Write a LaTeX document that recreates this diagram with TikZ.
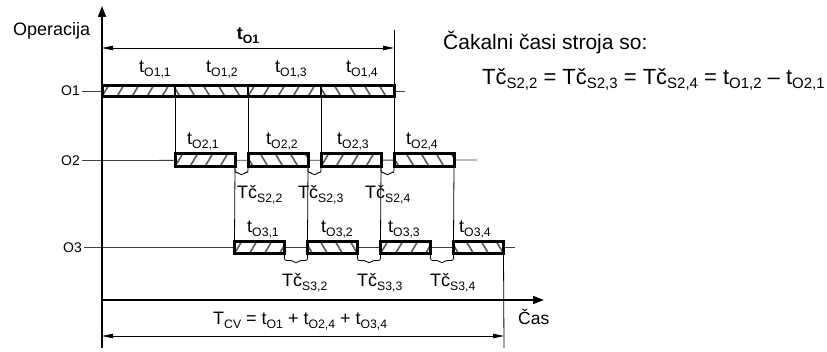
\documentclass[tikz,border=0pt]{standalone}
\usepackage{fontspec}
\usepackage{graphicx}
\setmainfont{Liberation Sans}
\usetikzlibrary{arrows.meta,calc}
\newcommand\sbs[1]{\raisebox{-.17em}{\scalebox{0.68}{#1}}}
\newcommand\gapbr[3]{\draw[brc] (#1) -- ($(#1)+(0,#3)$) -- ($($(#1)!.5!(#2)$)+(-3,#3)$) -- ($($(#1)!.5!(#2)$)+(0,#3+3)$) -- ($($(#1)!.5!(#2)$)+(3,#3)$) -- ($(#2)+(0,#3)$) -- (#2);}
\begin{document}
\begin{tikzpicture}[x=1pt,y=-1pt,
  hatchstroke/.style={draw=black!65, line width=1.6pt},
  hatchR/.style={path picture={\foreach \k in {-30,-15,...,90}{\draw[hatchstroke] ([xshift=\k pt]path picture bounding box.south west) -- ++(9pt,15pt);}}},
  hatchL/.style={path picture={\foreach \k in {-10,5,...,110}{\draw[hatchstroke] ([xshift=\k pt]path picture bounding box.south west) -- ++(-9pt,15pt);}}},
  segbox/.style={draw, fill=white, line width=3pt, minimum height=13pt, inner sep=0pt, outer sep=0pt},
  seg1/.style={segbox, line width=1.8pt, minimum height=11pt, minimum width=73pt},
  seg2/.style={segbox, minimum width=60pt},
  seg3/.style={segbox, minimum height=12pt, minimum width=50pt},
  lbl/.style={inner sep=0pt, anchor=base, font=\fontsize{18}{21}\selectfont},
  tclbl/.style={lbl, anchor=base west},
  olbl/.style={inner sep=2pt, anchor=east, font=\fontsize{14}{17}\selectfont},
  oline/.style={draw=black!75, line width=0.8pt},
  vline/.style={draw=black, line width=0.8pt},
  axisline/.style={draw=black, line width=1.5pt, -{Triangle[length=11pt,width=8pt]}},
  dimline/.style={draw=black, line width=0.8pt, {Triangle[length=11pt,width=4.5pt]}-{Triangle[length=11pt,width=4.5pt]}},
  brc/.style={draw=black, line width=0.8pt, rounded corners=2pt}
]
\useasboundingbox (0,0) rectangle (827,352);

% coordinates
\coordinate (ytop) at (102,6);
\coordinate (ybot) at (102,348);
\coordinate (orig) at (102,300);
\coordinate (xend) at (544,300);
\coordinate (ext1) at (394,30);
\coordinate (ext2) at (504,348);
\coordinate (dimTL) at (102,48);
\coordinate (dimTR) at (394,48);
\coordinate (dimBL) at (102,336);
\coordinate (dimBR) at (504,336);
\coordinate (o1end) at (405,91);
\coordinate (o2end) at (477,160);
\coordinate (o3end) at (515,247.5);

% labels
\node[inner sep=0pt, anchor=base west, font=\fontsize{18}{21}\selectfont] (lop) at (13,36) {Operacija};
\node[lbl, font=\bfseries\fontsize{18}{21}\selectfont] (ltO1) at (248,40) {t\sbs{O1}};
\node[olbl] (lo1) at (82,91) {O1};
\node[olbl] (lo2) at (82,160.5) {O2};
\node[olbl] (lo3) at (84,247.5) {O3};

\node[lbl] (la1) at (155,73) {t\sbs{O1,1}};
\node[lbl] (la2) at (222,73) {t\sbs{O1,2}};
\node[lbl] (la3) at (291,73) {t\sbs{O1,3}};
\node[lbl] (la4) at (362,73) {t\sbs{O1,4}};

\node[lbl] (lb1) at (203,145) {t\sbs{O2,1}};
\node[lbl] (lb2) at (282,145) {t\sbs{O2,2}};
\node[lbl] (lb3) at (353,145) {t\sbs{O2,3}};
\node[lbl] (lb4) at (422,145) {t\sbs{O2,4}};

\node[lbl] (lc1) at (263,233) {t\sbs{O3,1}};
\node[lbl] (lc2) at (337,233) {t\sbs{O3,2}};
\node[lbl] (lc3) at (404,233) {t\sbs{O3,3}};
\node[lbl] (lc4) at (475,233) {t\sbs{O3,4}};

\node[tclbl] (tb2) at (237,199) {Tč\sbs{S2,2}};
\node[tclbl] (tb3) at (298,199) {Tč\sbs{S2,3}};
\node[tclbl] (tb4) at (365,199) {Tč\sbs{S2,4}};

\node[tclbl] (tc2) at (282,287) {Tč\sbs{S3,2}};
\node[tclbl] (tc3) at (357,287) {Tč\sbs{S3,3}};
\node[tclbl] (tc4) at (430,287) {Tč\sbs{S3,4}};

\node[tclbl] (ltcv) at (213,325) {T\sbs{CV} = t\sbs{O1} + t\sbs{O2,4} + t\sbs{O3,4}};
\node[inner sep=0pt, anchor=base west, font=\fontsize{17.5}{20}\selectfont] (lcas) at (518,325) {Čas};

\node[inner sep=0pt, anchor=base west, font=\fontsize{21}{24}\selectfont] (lcak) at (443,50) {Čakalni časi stroja so:};
\node[inner sep=0pt, anchor=base west, font=\fontsize{22}{25}\selectfont] (lform) at (482,85) {Tč\sbs{S2,2} = Tč\sbs{S2,3} = Tč\sbs{S2,4} = t\sbs{O1,2} – t\sbs{O2,1}};

% operation base lines
\draw[oline] (lo1.east) -- (o1end);
\draw[oline] (lo2.east) -- (o2end);
\draw[oline] (lo3.east) -- (o3end);

% O1 bar
\node[seg1, hatchR] (a1) at (138.5,91) {};
\node[seg1, hatchL] (a2) at (211.5,91) {};
\node[seg1, hatchR] (a3) at (284.5,91) {};
\node[seg1, hatchL] (a4) at (357.5,91) {};
\draw[line width=3pt] (a1.north west) rectangle (a4.south east);

% O2 bar
\node[seg2, hatchR] (b1) at (205,160) {};
\node[seg2, hatchL] (b2) at (278,160) {};
\node[seg2, hatchR] (b3) at (351,160) {};
\node[seg2, hatchL] (b4) at (424,160) {};

% O3 bar
\node[seg3, hatchR] (c1) at (259.5,247.5) {};
\node[seg3, hatchL] (c2) at (332.5,247.5) {};
\node[seg3, hatchR] (c3) at (405.5,247.5) {};
\node[seg3, hatchL] (c4) at (478.5,247.5) {};

% vertical connectors
\draw[vline] (ext1) -- (a4.north east);
\draw[vline] (a1.south east) -- (b1.north west);
\draw[vline] (a2.south east) -- (b2.north west);
\draw[vline] (a3.south east) -- (b3.north west);
\draw[vline] (a4.south east) -- (b4.north west);
\draw[vline] (b1.south east) -- (c1.north west);
\draw[vline] (b2.south east) -- (c2.north west);
\draw[vline] (b3.south east) -- (c3.north west);
\draw[vline] (b4.south east) -- (c4.north west);
\draw[vline] (c4.south east) -- (ext2);

% waiting braces
\gapbr{b1.south east}{b2.south west}{6}
\gapbr{b2.south east}{b3.south west}{6}
\gapbr{b3.south east}{b4.south west}{6}
\gapbr{c1.south east}{c2.south west}{7}
\gapbr{c2.south east}{c3.south west}{7}
\gapbr{c3.south east}{c4.south west}{7}

% axes
\draw[axisline] (ybot) -- (ytop);
\draw[axisline] (orig) -- (xend);

% dimensions
\draw[dimline] (dimTL) -- (dimTR);
\draw[dimline] (dimBL) -- (dimBR);
\end{tikzpicture}
\end{document}
